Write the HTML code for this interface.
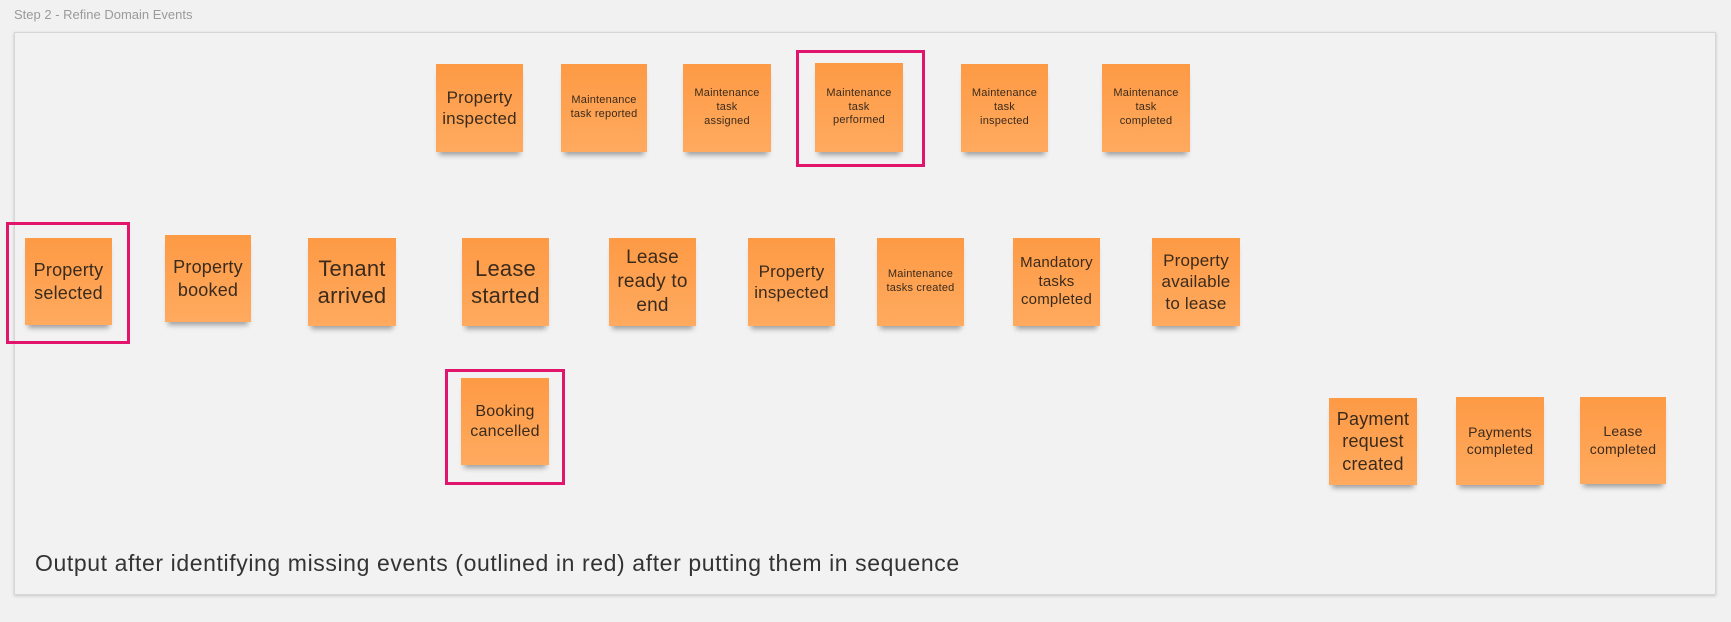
<!DOCTYPE html>
<html><head><meta charset="utf-8"><style>
html,body{margin:0;padding:0}
body{width:1731px;height:622px;background:#f1f1f1;position:relative;overflow:hidden;font-family:"Liberation Sans","DejaVu Sans",sans-serif}
.title{position:absolute;left:14px;top:7px;font-size:13px;color:#9a9a9a}
.frame{position:absolute;left:14px;top:32px;width:1700px;height:561px;background:#f2f2f2;border:1px solid #d6d6d6;box-shadow:0 1px 3px rgba(0,0,0,0.18)}
.s{position:absolute;background:linear-gradient(#fd9a45,#ffaa5f);color:#3b2b1c;display:flex;align-items:center;justify-content:center;text-align:center;line-height:1.25;letter-spacing:0.2px;box-shadow:0 6px 5px -3px rgba(0,0,0,0.35)}
.r{position:absolute;border:3px solid #e0156b;box-sizing:border-box}
.cap{position:absolute;left:35px;top:550px;font-size:23px;letter-spacing:0.6px;color:#333}
</style></head><body>
<div class="title">Step 2 - Refine Domain Events</div>
<div class="frame"></div>

<div class="s" style="left:436px;top:64px;width:87px;height:88px;font-size:17px">Property<br>inspected</div>
<div class="s" style="left:561px;top:64px;width:86px;height:88px;font-size:11px">Maintenance<br>task reported</div>
<div class="s" style="left:683px;top:64px;width:88px;height:88px;font-size:11px">Maintenance<br>task<br>assigned</div>
<div class="s" style="left:815px;top:63px;width:88px;height:89px;font-size:11px">Maintenance<br>task<br>performed</div>
<div class="s" style="left:961px;top:64px;width:87px;height:88px;font-size:11px">Maintenance<br>task<br>inspected</div>
<div class="s" style="left:1102px;top:64px;width:88px;height:88px;font-size:11px">Maintenance<br>task<br>completed</div>
<div class="r" style="left:796px;top:50px;width:129px;height:117px"></div>

<div class="s" style="left:25px;top:238px;width:87px;height:87px;font-size:18px">Property<br>selected</div>
<div class="r" style="left:6px;top:222px;width:124px;height:122px"></div>
<div class="s" style="left:165px;top:235px;width:86px;height:87px;font-size:18px">Property<br>booked</div>
<div class="s" style="left:308px;top:238px;width:88px;height:88px;font-size:22px">Tenant<br>arrived</div>
<div class="s" style="left:462px;top:238px;width:87px;height:88px;font-size:22px">Lease<br>started</div>
<div class="s" style="left:609px;top:238px;width:87px;height:88px;font-size:19px">Lease<br>ready to<br>end</div>
<div class="s" style="left:748px;top:238px;width:87px;height:88px;font-size:17px">Property<br>inspected</div>
<div class="s" style="left:877px;top:238px;width:87px;height:88px;font-size:11px">Maintenance<br>tasks created</div>
<div class="s" style="left:1013px;top:238px;width:87px;height:88px;font-size:15px">Mandatory<br>tasks<br>completed</div>
<div class="s" style="left:1152px;top:238px;width:88px;height:88px;font-size:17px">Property<br>available<br>to lease</div>

<div class="s" style="left:461px;top:378px;width:88px;height:87px;font-size:16px">Booking<br>cancelled</div>
<div class="r" style="left:445px;top:369px;width:120px;height:116px"></div>

<div class="s" style="left:1329px;top:398px;width:88px;height:87px;font-size:18px">Payment<br>request<br>created</div>
<div class="s" style="left:1456px;top:397px;width:88px;height:88px;font-size:14px">Payments<br>completed</div>
<div class="s" style="left:1580px;top:397px;width:86px;height:87px;font-size:14px">Lease<br>completed</div>

<div class="cap">Output after identifying missing events (outlined in red) after putting them in sequence</div>
</body></html>
